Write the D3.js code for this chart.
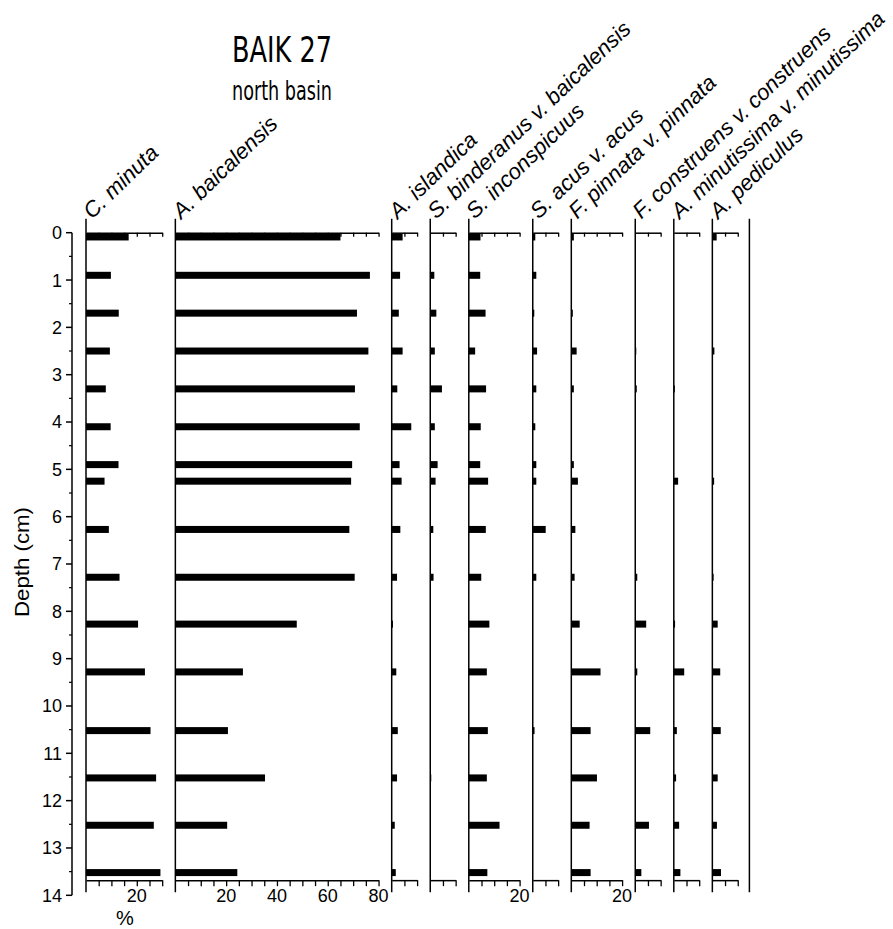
<!DOCTYPE html>
<html>
<head>
<meta charset="utf-8">
<script src="https://cdn.jsdelivr.net/npm/d3@7"></script>
<style>
  html, body { margin: 0; padding: 0; background: #fff; }
  svg { display: block; }
  text { fill: #000; }
</style>
</head>
<body>
<svg id="chart" width="893" height="929"></svg>
<script>
// Sample depths (cm) of the BAIK 27 core
const depths = [0.09, 0.9, 1.7, 2.5, 3.3, 4.1, 4.9, 5.25, 6.27, 7.28, 8.27, 9.28, 10.52, 11.52, 12.52, 13.52];

// Taxon names, one diagram column each
const taxa = [
  "C. minuta", "A. baicalensis", "A. islandica", "S. binderanus v. baicalensis",
  "S. inconspicuus", "S. acus v. acus", "F. pinnata v. pinnata",
  "F. construens v. construens", "A. minutissima v. minutissima", "A. pediculus"
];

// Relative abundance (%) per sample, top to bottom
const cMinuta       = [16.8, 9.8, 12.9, 9.4, 7.8, 9.7, 12.8, 7.3, 9.0, 13.2, 20.5, 23.2, 25.4, 27.6, 26.7, 29.3];
const aBaicalensis  = [65.0, 76.6, 71.5, 76.0, 70.7, 72.6, 69.6, 69.2, 68.5, 70.6, 47.8, 26.6, 20.7, 35.3, 20.4, 24.4];
const aIslandica    = [4.3, 3.3, 2.8, 4.3, 2.2, 7.7, 3.1, 3.9, 3.4, 2.1, 0.5, 1.8, 2.4, 2.1, 1.2, 1.6];
const sBinderanus   = [0, 1.6, 2.4, 1.8, 4.6, 1.8, 2.9, 2.1, 1.2, 1.3, 0, 0, 0, 0.4, 0, 0];
const sInconspicuus = [4.6, 4.5, 6.6, 2.5, 6.8, 4.7, 4.5, 7.6, 6.7, 4.9, 8.1, 7.1, 7.5, 7.1, 12.1, 7.3];
const sAcus         = [1.0, 1.4, 0.6, 1.7, 1.4, 1.0, 1.4, 1.4, 5.1, 1.4, 0, 0, 0.7, 0, 0, 0];
const fPinnata      = [1.0, 0, 0.6, 2.1, 1.0, 0, 1.0, 2.6, 1.6, 1.3, 3.3, 11.5, 7.6, 10.1, 7.2, 7.6];
const fConstruens   = [0, 0, 0, 0.4, 0.6, 0, 0, 0, 0, 0.8, 4.3, 0.8, 5.9, 0, 5.4, 2.4];
const aMinutissima  = [0, 0, 0, 0, 0.4, 0, 0, 1.7, 0, 0, 0.5, 4.1, 1.2, 0.9, 2.1, 2.6];
const aPediculus    = [1.7, 0, 0, 0.8, 0, 0, 0, 0.7, 0, 0.5, 2.1, 3.1, 3.3, 2.1, 1.8, 3.4];

const series = [cMinuta, aBaicalensis, aIslandica, sBinderanus, sInconspicuus,
                sAcus, fPinnata, fConstruens, aMinutissima, aPediculus];

// Upper limit of each column's % axis
const axisMax = [30, 80, 10, 10, 20, 10, 20, 10, 10, 10];
// Labelled % values on each column's bottom axis
const axisLabels = [[20], [20, 40, 60, 80], [], [], [20], [], [20], [], [], []];

// Depth axis tick labels
const depthTicks = d3.range(0, 15);

// ---- layout ----
const pxPerPct = 2.54;
const gap = 13.15;
const x0 = 86;
const depthTop = 232.7, depthBottom = 895.3;
const panelBottomDepth = 13.68;
const barH = 7;

const svg = d3.select("#chart");
const y = d3.scaleLinear().domain([0, 14]).range([depthTop, depthBottom]);

const SANS = "'Liberation Sans', Arial, Helvetica, sans-serif";
const NARROW = "'Liberation Sans Narrow', 'DejaVu Sans Condensed', 'Arial Narrow', sans-serif";

// Title
svg.append("text")
  .attr("x", 232).attr("y", 62)
  .attr("font-family", NARROW).attr("font-size", 35)
  .attr("textLength", 100).attr("lengthAdjust", "spacingAndGlyphs")
  .text("BAIK 27");
svg.append("text")
  .attr("x", 232).attr("y", 100)
  .attr("font-family", NARROW).attr("font-size", 26)
  .attr("textLength", 100).attr("lengthAdjust", "spacingAndGlyphs")
  .text("north basin");

// Depth axis
const depthAxis = svg.append("g").attr("class", "depth-axis");
depthAxis.append("line")
  .attr("x1", 72).attr("x2", 72)
  .attr("y1", y(0)).attr("y2", y(14))
  .attr("stroke", "#000").attr("stroke-width", 1.5);
depthAxis.selectAll("line.major").data(depthTicks).join("line")
  .attr("class", "major")
  .attr("x1", 66).attr("x2", 72)
  .attr("y1", d => y(d)).attr("y2", d => y(d))
  .attr("stroke", "#000").attr("stroke-width", 1.5);
depthAxis.selectAll("line.minor").data(d3.range(0.5, 14, 1)).join("line")
  .attr("class", "minor")
  .attr("x1", 69).attr("x2", 72)
  .attr("y1", d => y(d)).attr("y2", d => y(d))
  .attr("stroke", "#000").attr("stroke-width", 1.2);
depthAxis.selectAll("text").data(depthTicks).join("text")
  .attr("x", 62).attr("y", d => y(d))
  .attr("dy", "0.36em")
  .attr("text-anchor", "end")
  .attr("font-family", SANS).attr("font-size", 18)
  .text(d => d);
svg.append("text")
  .attr("transform", `translate(29,${562}) rotate(-90)`)
  .attr("text-anchor", "middle")
  .attr("font-family", SANS).attr("font-size", 20)
  .attr("textLength", 110).attr("lengthAdjust", "spacingAndGlyphs")
  .text("Depth (cm)");

// Columns
let left = x0;
series.forEach((vals, i) => {
  const w = axisMax[i] * pxPerPct;
  const x = d3.scaleLinear().domain([0, axisMax[i]]).range([left, left + w]);
  const g = svg.append("g").attr("class", "column");
  const yTopAxis = y(0), yBotAxis = y(panelBottomDepth);

  // bars
  g.selectAll("rect").data(depths.map((d, k) => ({ d, v: vals[k] })).filter(o => o.v > 0))
    .join("rect")
    .attr("x", x(0))
    .attr("y", o => y(o.d) - barH / 2)
    .attr("width", o => x(o.v) - x(0))
    .attr("height", barH)
    .attr("fill", "#000");

  // left spine, running past both axes
  g.append("line")
    .attr("x1", x(0)).attr("x2", x(0))
    .attr("y1", yTopAxis - 14).attr("y2", yBotAxis + 12)
    .attr("stroke", "#000").attr("stroke-width", 1.5);

  // top axis, ticks hanging inward
  const top = d3.axisTop(x).tickValues(d3.range(5, axisMax[i] + 0.1, 5))
    .tickSize(-4).tickSizeOuter(0).tickFormat("");
  g.append("g").attr("transform", `translate(0,${yTopAxis})`).call(top)
    .call(s => s.select(".domain").attr("stroke-width", 1.5))
    .call(s => s.selectAll(".tick line").attr("stroke-width", 1.3));

  // bottom axis, ticks outward
  const bot = d3.axisBottom(x).tickValues(d3.range(5, axisMax[i] + 0.1, 5))
    .tickSize(6).tickSizeOuter(0).tickFormat("");
  g.append("g").attr("transform", `translate(0,${yBotAxis})`).call(bot)
    .call(s => s.select(".domain").attr("stroke-width", 1.5))
    .call(s => s.selectAll(".tick line").attr("stroke-width", 1.3));

  // % labels under the bottom axis
  g.selectAll("text.pct").data(axisLabels[i]).join("text")
    .attr("class", "pct")
    .attr("x", v => x(v)).attr("y", yBotAxis + 22)
    .attr("text-anchor", "middle")
    .attr("font-family", SANS).attr("font-size", 18)
    .text(v => v);

  // rotated taxon name
  svg.append("text")
    .attr("transform", `translate(${x(0) + 6},${yTopAxis - 13}) rotate(-44)`)
    .attr("font-family", SANS).attr("font-style", "italic").attr("font-size", 22)
    .text(taxa[i]);

  left += w + gap;
});

// closing line at the right of the last column
svg.append("line")
  .attr("x1", left - 1.5).attr("x2", left - 1.5)
  .attr("y1", y(0) - 14).attr("y2", y(panelBottomDepth) + 12)
  .attr("stroke", "#000").attr("stroke-width", 1.5);

// unit label
svg.append("text")
  .attr("x", 125).attr("y", 925)
  .attr("text-anchor", "middle")
  .attr("font-family", SANS).attr("font-size", 20)
  .text("%");
</script>
</body>
</html>
